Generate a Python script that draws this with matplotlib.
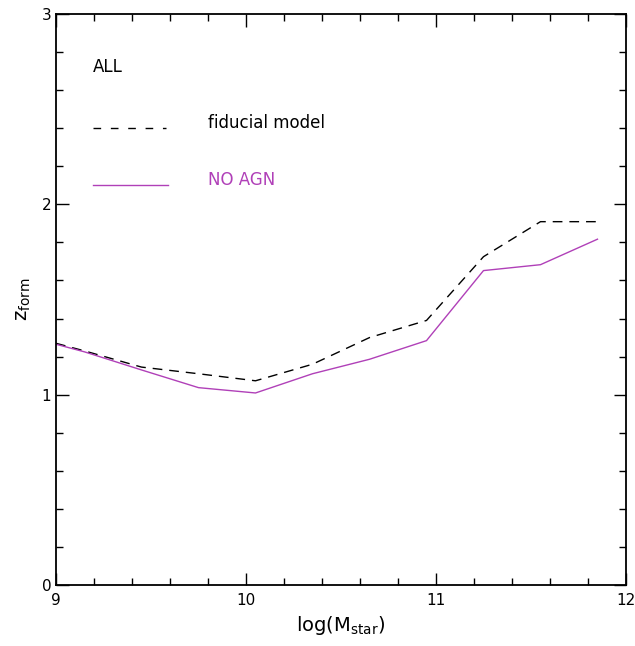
import numpy as np
import matplotlib
matplotlib.use("Agg")
import matplotlib.pyplot as plt
from matplotlib.ticker import MultipleLocator

# データ
logm = [9.0, 9.15, 9.45, 9.75, 10.05, 10.35, 10.65, 10.95, 11.25, 11.55, 11.85]
z_fiducial = [1.27, 1.23, 1.145, 1.11, 1.073, 1.16, 1.30, 1.39, 1.725, 1.909, 1.909]
z_noagn = [1.265, 1.225, 1.13, 1.037, 1.009, 1.11, 1.186, 1.284, 1.652, 1.683, 1.817]

magenta = "#b040b8"
dash = (0, (7, 5))

fig = plt.figure(figsize=(6.35, 6.46), dpi=100)
ax = fig.add_axes([0.0882, 0.0944, 0.8976, 0.8839])

ax.plot(logm, z_fiducial, color="k", lw=1.0, ls=dash)
ax.plot(logm, z_noagn, color=magenta, lw=1.0)

ax.set_xlim(9, 12)
ax.set_ylim(0, 3)
ax.xaxis.set_major_locator(MultipleLocator(1))
ax.xaxis.set_minor_locator(MultipleLocator(0.2))
ax.yaxis.set_major_locator(MultipleLocator(1))
ax.yaxis.set_minor_locator(MultipleLocator(0.2))
ax.tick_params(which="both", direction="in", top=True, right=True, width=1.0,
               labelsize=11)
ax.tick_params(which="major", length=9)
ax.tick_params(which="minor", length=5)
ax.tick_params(axis="x", pad=6)
for s in ax.spines.values():
    s.set_linewidth(1.3)

ax.set_xlabel(r"log(M$_{\mathregular{star}}$)", fontsize=14, labelpad=4)
ax.set_ylabel(r"$\mathregular{z_{form}}$", fontsize=14, labelpad=6)

# 凡例
ax.text(9.195, 2.72, "ALL", fontsize=12, va="center")
ax.plot([9.195, 9.58], [2.40, 2.40], color="k", lw=1.0, ls=(0, (5.5, 7)))
ax.text(9.80, 2.43, "fiducial model", fontsize=12, va="center")
ax.plot([9.195, 9.59], [2.10, 2.10], color=magenta, lw=1.0)
ax.text(9.80, 2.13, "NO AGN", fontsize=12, va="center", color=magenta)

plt.savefig("out.png")
